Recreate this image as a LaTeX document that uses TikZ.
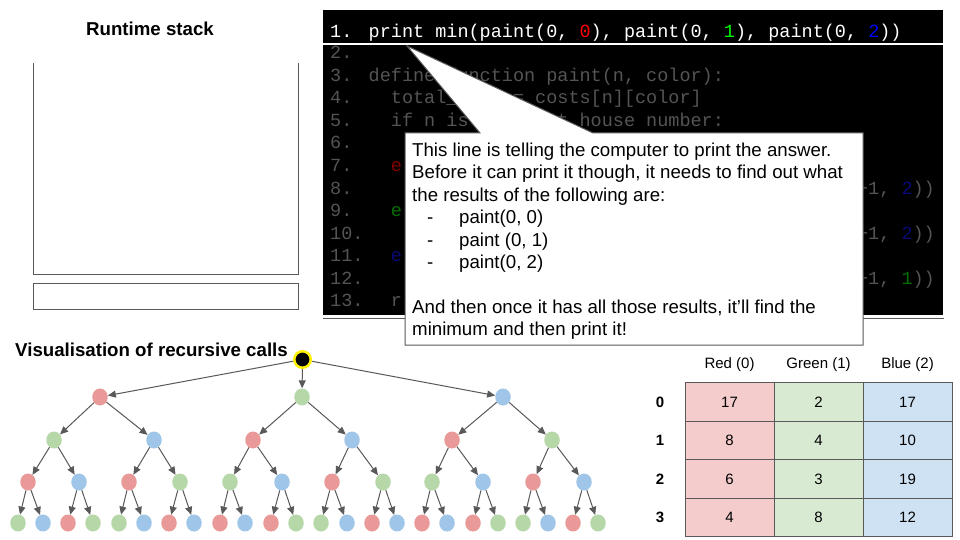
\documentclass[tikz,border=0pt]{standalone}
\usepackage{fontspec}
\setmainfont{Liberation Sans}
\newfontfamily\codefont{Liberation Mono}
\usetikzlibrary{shapes.geometric,arrows.meta}
\definecolor{tred}{HTML}{EA9999}
\definecolor{tgreen}{HTML}{B6D7A8}
\definecolor{tblue}{HTML}{9FC5E8}
\definecolor{lred}{HTML}{F4CCCC}
\definecolor{lgreen}{HTML}{D9EAD3}
\definecolor{lblue}{HTML}{CFE2F3}
\definecolor{lgray}{HTML}{595959}
\definecolor{codegray}{RGB}{84,84,84}
\definecolor{cred}{RGB}{130,0,0}
\definecolor{cgreen}{RGB}{0,110,0}
\definecolor{cblue}{RGB}{10,10,120}
\definecolor{bred}{RGB}{255,0,0}
\definecolor{bgreen}{RGB}{0,255,0}
\definecolor{bblue}{RGB}{0,0,255}
\tikzset{
  code/.style={anchor=base west, inner sep=0pt, text=codegray, font=\codefont\fontsize{18.5}{22}\selectfont},
  title/.style={inner sep=0pt, font=\bfseries\fontsize{18.67}{22}\selectfont},
  ctext/.style={anchor=base west, inner sep=0pt, font=\fontsize{18.67}{22}\selectfont},
  boxline/.style={draw=lgray, line width=1pt},
  tn/.style={ellipse, minimum width=15.5pt, minimum height=17pt, inner sep=0pt},
  rn/.style={tn, fill=tred},
  gn/.style={tn, fill=tgreen},
  bn/.style={tn, fill=tblue},
  arr/.style={draw=lgray, line width=1pt, -{Triangle[length=8pt,width=7pt]}},
  cell/.style={rectangle, draw=lgray, line width=1pt, minimum width=89pt, minimum height=38.5pt, inner sep=0pt, font=\fontsize{15}{18}\selectfont},
  hdr/.style={inner sep=0pt, font=\fontsize{15}{18}\selectfont},
  rowlab/.style={inner sep=0pt, font=\bfseries\fontsize{15}{18}\selectfont}
}
\begin{document}
\begin{tikzpicture}[x=1pt,y=-1pt]
\useasboundingbox (0,0) rectangle (960,540);
\fill[white] (0,0) rectangle (960,540);

% Runtime stack
\node[title] (rstitle) at (150,29) {Runtime stack};
\draw[boxline] (33,63) -- (33,274) -- (298,274) -- (298,63);
\node[boxline, rectangle, minimum width=265pt, minimum height=26pt, inner sep=0pt] (stackbase) at (165.5,296) {};

% Code panel
\fill[black] (323,10.5) rectangle (943,43.5);
\fill[black] (323,45) rectangle (943,315);
\draw[lgray, line width=1pt] (323,318) -- (944,318);

\node[code, text=white] (n1) at (330,37.7) {1.};
\node[code, text=white] (c1) at (368.5,37.7) {print min(paint(0, {\color{bred}0}), paint(0, {\color{bgreen}1}), paint(0, {\color{bblue}2}))};

\node[code] (n2) at (330,59) {2.};
\node[code] (n3) at (330,81.5) {3.};
\node[code] (n4) at (330,104) {4.};
\node[code] (n5) at (330,126.5) {5.};
\node[code] (n6) at (330,149) {6.};
\node[code] (n7) at (330,171.5) {7.};
\node[code] (n8) at (330,194) {8.};
\node[code] (n9) at (330,216.5) {9.};
\node[code] (n10) at (330,239) {10.};
\node[code] (n11) at (330,261.5) {11.};
\node[code] (n12) at (330,284) {12.};
\node[code] (n13) at (330,306.5) {13.};

\node[code] (c3) at (368.5,81.5) {define function paint(n, color):};
\node[code] (c4) at (390.7,104) {total\_cost = costs[n][color]};
\node[code] (c5) at (390.7,126.5) {if n is the last house number:};
\node[code, text=cred] (c7) at (390.7,171.5) {e};
\node[code] (c8) at (856.9,194) {+1, {\color{cblue}2}))};
\node[code, text=cgreen] (c9) at (390.7,216.5) {e};
\node[code] (c10) at (856.9,239) {+1, {\color{cblue}2}))};
\node[code, text=cblue] (c11) at (390.7,261.5) {e};
\node[code] (c12) at (856.9,284) {+1, {\color{cgreen}1}))};
\node[code] (c13) at (390.7,306.5) {r};

% Callout
\filldraw[fill=white, draw=lgray, line width=1pt] (405,133) -- (480,133) -- (407,46) -- (593,133) -- (863,133) -- (863,345) -- (405,345) -- cycle;
\node[ctext] (t1) at (412,156.5) {This line is telling the computer to print the answer.};
\node[ctext] (t2) at (412,178.9) {Before it can print it though, it needs to find out what};
\node[ctext] (t3) at (412,201.3) {the results of the following are:};
\node[ctext] (b1) at (427,223.7) {-};
\node[ctext] (t4) at (459,223.7) {paint(0, 0)};
\node[ctext] (b2) at (427,246.1) {-};
\node[ctext] (t5) at (459,246.1) {paint (0, 1)};
\node[ctext] (b3) at (427,268.5) {-};
\node[ctext] (t6) at (459,268.5) {paint(0, 2)};
\node[ctext] (t7) at (412,313.3) {And then once it has all those results, it’ll find the};
\node[ctext] (t8) at (412,335.7) {minimum and then print it!};

% Tree title
\node[title, anchor=west] (vtitle) at (15,350) {Visualisation of recursive calls};

% Tree nodes
\node[ellipse, fill=black, draw=yellow, line width=2.5pt, minimum width=16.5pt, minimum height=16.5pt, inner sep=0pt] (root) at (302.5,359.5) {};
\node[rn] (A) at (100,397) {};
\node[gn] (B) at (302,397) {};
\node[bn] (C) at (503,397) {};

\node[gn] (A1) at (54,440) {};
\node[bn] (A2) at (154,440) {};
\node[rn] (B1) at (253,440) {};
\node[bn] (B2) at (352,440) {};
\node[rn] (C1) at (452,440) {};
\node[gn] (C2) at (552,440) {};

\node[rn] (A11) at (28,482) {};
\node[bn] (A12) at (79,482) {};
\node[rn] (A21) at (129,482) {};
\node[gn] (A22) at (180,482) {};
\node[gn] (B11) at (230,482) {};
\node[bn] (B12) at (282,482) {};
\node[rn] (B21) at (332,482) {};
\node[gn] (B22) at (383,482) {};
\node[gn] (C11) at (432,482) {};
\node[bn] (C12) at (483,482) {};
\node[rn] (C21) at (533,482) {};
\node[bn] (C22) at (584,482) {};

\node[gn] (A111) at (18,523) {};
\node[bn] (A112) at (43,523) {};
\node[rn] (A121) at (68,523) {};
\node[gn] (A122) at (93,523) {};
\node[gn] (A211) at (119,523) {};
\node[bn] (A212) at (144,523) {};
\node[rn] (A221) at (169,523) {};
\node[bn] (A222) at (194,523) {};
\node[rn] (B111) at (220,523) {};
\node[bn] (B112) at (245,523) {};
\node[rn] (B121) at (271,523) {};
\node[gn] (B122) at (296,523) {};
\node[gn] (B211) at (321,523) {};
\node[bn] (B212) at (347,523) {};
\node[rn] (B221) at (372,523) {};
\node[bn] (B222) at (397,523) {};
\node[rn] (C111) at (422,523) {};
\node[bn] (C112) at (447,523) {};
\node[rn] (C121) at (473,523) {};
\node[gn] (C122) at (498,523) {};
\node[gn] (C211) at (523,523) {};
\node[bn] (C212) at (548,523) {};
\node[rn] (C221) at (573,523) {};
\node[gn] (C222) at (598,523) {};

% Tree edges
\foreach \c in {A,B,C} \draw[arr] (root) -- (\c);
\foreach \p in {A,B,C} \foreach \k in {1,2} \draw[arr] (\p) -- (\p\k);
\foreach \p in {A1,A2,B1,B2,C1,C2} \foreach \k in {1,2} \draw[arr] (\p) -- (\p\k);
\foreach \p in {A11,A12,A21,A22,B11,B12,B21,B22,C11,C12,C21,C22} \foreach \k in {1,2} \draw[arr] (\p) -- (\p\k);

% Table
\node[hdr] (h0) at (729.5,365) {Red (0)};
\node[hdr] (h1) at (818.5,365) {Green (1)};
\node[hdr] (h2) at (907.5,365) {Blue (2)};
\node[rowlab] (r0) at (660,402) {0};
\node[rowlab] (r1) at (660,440.5) {1};
\node[rowlab] (r2) at (660,479) {2};
\node[rowlab] (r3) at (660,517.5) {3};

\node[cell, fill=lred] (t00) at (729.5,402) {17};
\node[cell, fill=lgreen] (t01) at (818.5,402) {2};
\node[cell, fill=lblue] (t02) at (907.5,402) {17};
\node[cell, fill=lred] (t10) at (729.5,440.5) {8};
\node[cell, fill=lgreen] (t11) at (818.5,440.5) {4};
\node[cell, fill=lblue] (t12) at (907.5,440.5) {10};
\node[cell, fill=lred] (t20) at (729.5,479) {6};
\node[cell, fill=lgreen] (t21) at (818.5,479) {3};
\node[cell, fill=lblue] (t22) at (907.5,479) {19};
\node[cell, fill=lred] (t30) at (729.5,517.5) {4};
\node[cell, fill=lgreen] (t31) at (818.5,517.5) {8};
\node[cell, fill=lblue] (t32) at (907.5,517.5) {12};
\end{tikzpicture}
\end{document}
